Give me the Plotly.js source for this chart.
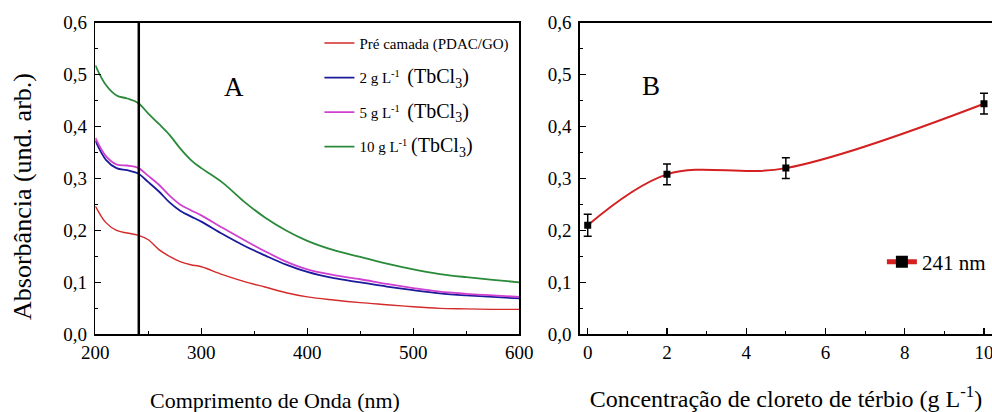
<!DOCTYPE html>
<html><head><meta charset="utf-8">
<script src="https://cdn.plot.ly/plotly-3.0.1.min.js"></script>
<style>body{margin:0;background:#fff}#chart{width:992px;height:412px}</style>
</head><body><div id="chart"></div>
<script>
// Panel A: absorbance spectra
const wavelength = [200,210,220,230,240,250,260,270,280,290,300,320,340,360,380,400,425,450,475,500,525,550,575,600];
const absPre   = [0.247,0.215,0.200,0.195,0.191,0.182,0.163,0.150,0.140,0.134,0.130,0.115,0.102,0.091,0.080,0.072,0.066,0.061,0.057,0.053,0.050,0.049,0.048,0.048];
const abs2g    = [0.373,0.336,0.320,0.316,0.310,0.293,0.275,0.254,0.238,0.227,0.217,0.193,0.171,0.152,0.134,0.120,0.108,0.100,0.092,0.085,0.079,0.075,0.072,0.069];
const abs5g    = [0.378,0.343,0.327,0.325,0.321,0.305,0.288,0.267,0.250,0.239,0.229,0.205,0.182,0.160,0.140,0.125,0.114,0.106,0.097,0.089,0.082,0.078,0.075,0.072];
const abs10g   = [0.518,0.480,0.460,0.454,0.446,0.425,0.405,0.384,0.358,0.336,0.320,0.292,0.256,0.225,0.200,0.180,0.162,0.149,0.136,0.125,0.116,0.110,0.105,0.100];
const seriesNames = [
  'Pré camada (PDAC/GO)',
  '2 g L<sup>-1</sup>  <span style="font-size:20px">(TbCl<sub>3</sub>)</span>',
  '5 g L<sup>-1</sup>  <span style="font-size:20px">(TbCl<sub>3</sub>)</span>',
  '10 g L<sup>-1</sup> <span style="font-size:20px">(TbCl<sub>3</sub>)</span>'
];
const markerWavelength = 241;
const absRange = [0, 0.6];
const titleA = 'Comprimento de Onda (nm)';
const titleB = 'Concentração de cloreto de térbio (g L<sup>-1</sup>)';
const titleY = 'Absorbância (und. arb.)';

// Panel B: absorbance at 241 nm vs concentration
const concentration = [0, 2, 5, 10];
const abs241 = [0.210, 0.308, 0.320, 0.444];
const abs241Err = [0.021, 0.020, 0.020, 0.020];
const seriesBName = '241 nm';

const FONT = 'Liberation Serif';
const colors = ['#d42a2a', '#1a1a9a', '#d040d0', '#2a8a3a'];
const specs = [absPre, abs2g, abs5g, abs10g];

const traces = specs.map((ys, i) => ({
  type: 'scatter', mode: 'lines', x: wavelength, y: ys, name: seriesNames[i],
  line: {color: colors[i], width: i === 0 ? 1.4 : 1.8, shape: 'spline', smoothing: 1},
  xaxis: 'x', yaxis: 'y', legend: 'legend', legendgroup: 'g' + i
}));
traces.push({
  type: 'scatter', mode: 'lines', x: [markerWavelength, markerWavelength], y: absRange,
  line: {color: '#000', width: 2.5}, showlegend: false, xaxis: 'x', yaxis: 'y', hoverinfo: 'skip'
});
traces.push({
  type: 'scatter', mode: 'lines+markers', x: concentration, y: abs241, name: seriesBName,
  line: {color: '#d42020', width: 2, shape: 'spline', smoothing: 1},
  marker: {symbol: 'square', size: 7, color: '#000'},
  error_y: {type: 'data', array: abs241Err, visible: true, color: '#000', thickness: 1.5, width: 4},
  xaxis: 'x2', yaxis: 'y2', legend: 'legend2'
});

const ydom = [0.1886, 0.9449];
const commonAxis = {
  showline: true, linecolor: '#000', linewidth: 1.6, showgrid: false, zeroline: false,
  ticks: 'inside', ticklen: 6, tickwidth: 1.3, tickcolor: '#000', ticklabeloverflow: 'allow',
  tickfont: {family: FONT, size: 19, color: '#000'}
};

const layout = {
  width: 992, height: 412,
  margin: {l: 0, r: 0, t: 0, b: 0},
  paper_bgcolor: '#fff', plot_bgcolor: '#fff',
  separators: ',.',
  font: {family: FONT, color: '#000'},
  xaxis: Object.assign({}, commonAxis, {
    domain: [0.0961, 0.5235], range: [200, 600], anchor: 'y', mirror: true,
    tickvals: [200, 300, 400, 500, 600],
    minor: {dtick: 50, tick0: 200, ticks: 'inside', ticklen: 3, tickwidth: 1.2, tickcolor: '#000'}
  }),
  yaxis: Object.assign({}, commonAxis, {
    domain: ydom, range: absRange, anchor: 'x', mirror: true,
    dtick: 0.1, tick0: 0, tickformat: '.1f', ticklabelstandoff: 3,
    minor: {dtick: 0.05, ticks: 'inside', ticklen: 3, tickwidth: 1.2, tickcolor: '#000'}
  }),
  xaxis2: Object.assign({}, commonAxis, {
    domain: [0.5847, 1], range: [-0.194, 10.202], anchor: 'y2', mirror: true,
    dtick: 2, tick0: 0,
    minor: {dtick: 1, tick0: 0, ticks: 'inside', ticklen: 3, tickwidth: 1.2, tickcolor: '#000'},
    title: {text: titleB, font: {family: FONT, size: 24, color: '#000'}, standoff: 31}
  }),
  yaxis2: Object.assign({}, commonAxis, {
    domain: ydom, range: absRange, anchor: 'x2', mirror: false,
    dtick: 0.1, tick0: 0, tickformat: '.1f', ticklabelstandoff: 3,
    minor: {dtick: 0.05, ticks: 'inside', ticklen: 3, tickwidth: 1.2, tickcolor: '#000'}
  }),
  legend: {
    x: 0.322, y: 0.935, xanchor: 'left', yanchor: 'top', bgcolor: 'rgba(0,0,0,0)',
    font: {family: FONT, size: 15, color: '#000'}, tracegroupgap: 12
  },
  legend2: {
    x: 0.889, y: 0.364, xanchor: 'left', yanchor: 'middle', bgcolor: 'rgba(0,0,0,0)',
    font: {family: FONT, size: 21, color: '#000'}, itemsizing: 'constant'
  },
  annotations: [
    {text: 'A', xref: 'x', yref: 'y', x: 331, y: 0.477, showarrow: false, font: {family: FONT, size: 27, color: '#000'}},
    {text: 'B', xref: 'x2', yref: 'y2', x: 1.6, y: 0.478, showarrow: false, font: {family: FONT, size: 27, color: '#000'}},
    {text: titleA, xref: 'paper', yref: 'paper', x: 0.2772, y: 0.029, xanchor: 'center', yanchor: 'middle',
     showarrow: false, font: {family: FONT, size: 22, color: '#000'}},
    {text: titleY, xref: 'paper', yref: 'paper', x: 0.0232, y: 0.522, xanchor: 'center', yanchor: 'middle',
     textangle: -90, showarrow: false, font: {family: FONT, size: 26, color: '#000'}}
  ],
  showlegend: true
};

Plotly.newPlot('chart', traces, layout, {staticPlot: true});
</script>
</body></html>
